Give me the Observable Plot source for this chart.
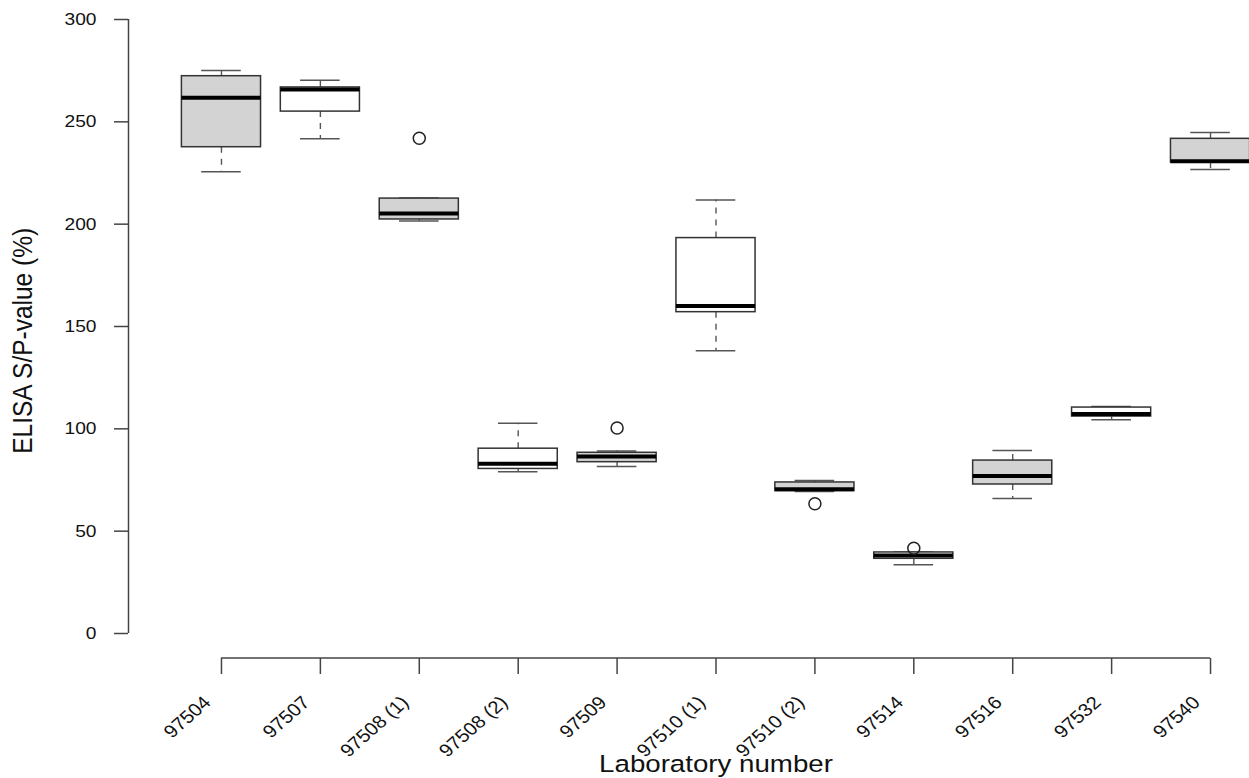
<!DOCTYPE html>
<html>
<head>
<meta charset="utf-8">
<script src="https://cdn.jsdelivr.net/npm/d3@7"></script>
<script src="https://cdn.jsdelivr.net/npm/@observablehq/plot@0.6"></script>
<style>
  html, body { margin: 0; padding: 0; background: white; }
</style>
</head>
<body>
<div id="chart"></div>
<script>
// ---- data ----
const categories = ["97504", "97507", "97508 (1)", "97508 (2)", "97509", "97510 (1)", "97510 (2)", "97514", "97516", "97532", "97540"];
const whiskerLow  = [225.6, 241.7, 201.6, 79.0, 81.6, 138.1, 69.4, 33.6, 66.0, 104.4, 226.7];
const q1          = [237.6, 255.0, 202.3, 80.4, 83.7, 157.0, 69.6, 36.5, 72.8, 106.0, 230.1];
const median      = [261.8, 265.8, 205.2, 82.9, 86.5, 160.0, 70.5, 38.1, 76.9, 107.3, 230.8];
const q3          = [272.3, 266.8, 212.5, 90.3, 88.3, 193.2, 73.8, 39.6, 84.5, 110.4, 241.7];
const whiskerHigh = [275.1, 270.3, 212.8, 102.7, 89.2, 211.8, 74.8, 39.8, 89.4, 110.9, 244.8];
const outlierLab  = ["97508 (1)", "97509", "97510 (2)", "97514"];
const outlierVal  = [242.0, 100.4, 63.4, 41.7];
const boxFill     = ["#d3d3d3", "white"];
const yTicks      = [0, 50, 100, 150, 200, 250, 300];
const xTitle = "Laboratory number";
const yTitle = "ELISA S/P-value (%)";

// ---- derived tables ----
const boxes = categories.map((c, i) => ({
  cat: c, i: i + 1,
  lo: whiskerLow[i], q1: q1[i], med: median[i], q3: q3[i], hi: whiskerHigh[i],
  fill: boxFill[i % 2]
}));
const outliers = outlierLab.map((c, k) => ({ i: categories.indexOf(c) + 1, v: outlierVal[k] }));
const xIdx = categories.map((c, i) => i + 1);

const n = categories.length;
const xDomain = [0.5 - 0.04 * n, n + 0.5 + 0.04 * n];   // R-style 4% expansion
const yDomain = [0, 300];
const yAxisAt = yDomain[0] - 0.04 * (yDomain[1] - yDomain[0]);
const half = 0.4, stapleHalf = 0.2;
const ink = "#222";
const font = "Liberation Sans, Arial, Helvetica, sans-serif";

const chart = Plot.plot({
  width: 1249,
  height: 778,
  marginLeft: 128,
  marginRight: 0,
  marginTop: 0,
  marginBottom: 120,
  x: { type: "linear", domain: xDomain, range: [128, 1303] },
  y: { type: "linear", domain: yDomain, range: [633, 19] },
  style: { fontFamily: font, background: "white", color: "#111", overflow: "visible" },
  marks: [
    // axes lines
    Plot.ruleX([xDomain[0]], { y1: yDomain[0], y2: yDomain[1], stroke: "#444", strokeWidth: 1.5 }),
    Plot.ruleY([yAxisAt], { x1: 1, x2: n, stroke: "#444", strokeWidth: 1.5 }),
    Plot.axisY(yTicks, { anchor: "left", tickSize: 14, tickPadding: 18, fontSize: 17, label: null, stroke: "#444", strokeWidth: 1.5 }),
    Plot.axisX(xIdx, { anchor: "bottom", tickSize: 16, tickFormat: () => "", label: null, stroke: "#444", strokeWidth: 1.5 }),
    // whiskers
    Plot.ruleX(boxes, { x: "i", y1: "q3", y2: "hi", stroke: "#555", strokeWidth: 1.4, strokeDasharray: "6,6" }),
    Plot.ruleX(boxes, { x: "i", y1: "q1", y2: "lo", stroke: "#555", strokeWidth: 1.4, strokeDasharray: "6,6" }),
    // staples
    Plot.ruleY(boxes, { y: "hi", x1: d => d.i - stapleHalf, x2: d => d.i + stapleHalf, stroke: "#555", strokeWidth: 1.5 }),
    Plot.ruleY(boxes, { y: "lo", x1: d => d.i - stapleHalf, x2: d => d.i + stapleHalf, stroke: "#555", strokeWidth: 1.5 }),
    // boxes
    Plot.rect(boxes, { x1: d => d.i - half, x2: d => d.i + half, y1: "q1", y2: "q3", fill: d => d.fill, stroke: "#333", strokeWidth: 1.5 }),
    // medians
    Plot.ruleY(boxes, { y: "med", x1: d => d.i - half, x2: d => d.i + half, stroke: "black", strokeWidth: 4 }),
    // outliers
    Plot.dot(outliers, { x: "i", y: "v", r: 6, stroke: ink, strokeWidth: 1.5, fill: "none" }),
    // x tick labels
    Plot.text(categories, { x: (d, i) => i + 1, text: d => d, frameAnchor: "bottom", dx: -14, dy: 41, rotate: -45, textAnchor: "end", lineAnchor: "middle", fontSize: 18, fill: "#111" }),
    // axis titles
    Plot.text([xTitle], { x: (xDomain[0] + xDomain[1]) / 2, text: d => d, frameAnchor: "bottom", dy: 106, textAnchor: "middle", lineAnchor: "middle", fontSize: 24.5, fill: "#111" }),
    Plot.text([yTitle], { y: 143, text: d => d, frameAnchor: "left", dx: -105, rotate: -90, textAnchor: "middle", lineAnchor: "middle", fontSize: 24.5, fill: "#111" })
  ]
});

// horizontal stretch of the glyphs, as in the reference image
const K = 1.13;
d3.select(chart).selectAll("text").each(function () {
  const t = this.getAttribute("transform") || "";
  const m = t.match(/rotate\(([-\d.]+)\)/);
  if (m) {
    const r = (+m[1]) * Math.PI / 180, c = Math.cos(r), s = Math.sin(r);
    this.setAttribute("transform", t.replace(m[0], `matrix(${K * c},${s},${-K * s},${c},0,0)`));
  } else {
    const x = parseFloat(this.getAttribute("x")) || 0;
    this.setAttribute("transform", `${t} translate(${x},0) scale(${K},1) translate(${-x},0)`);
  }
});

document.getElementById("chart").appendChild(chart);
</script>
</body>
</html>
